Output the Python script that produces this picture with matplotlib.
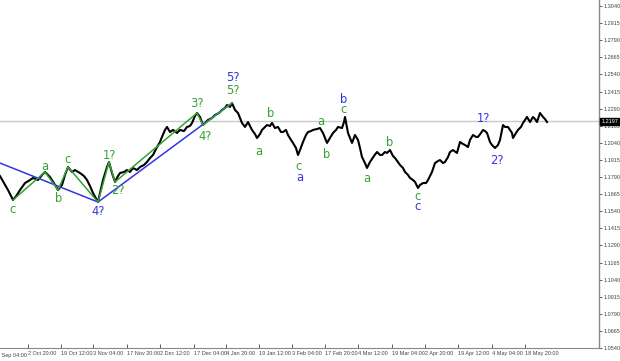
import matplotlib
matplotlib.use("Agg")
import matplotlib.pyplot as plt
import matplotlib.ticker as mticker

# ---- data -------------------------------------------------------------
bar_x = [0, 4, 8, 13, 17, 20, 25, 30, 33, 38, 42, 45, 50, 55, 58, 62, 65, 68, 72, 75,
         80, 84, 87, 90, 93, 98, 100, 103, 107, 109, 112, 115, 118, 120, 124, 127, 130,
         133, 137, 140, 144, 147, 150, 153, 157, 160, 162, 165, 167, 170, 173, 177, 180,
         184, 187, 190, 192, 195, 197, 200, 203, 206, 208, 212, 215, 219, 222, 225, 227,
         230, 232, 235, 238, 242, 245, 248, 252, 255, 257, 260, 262, 265, 267, 270, 272,
         275, 278, 281, 283, 286, 288, 291, 293, 296, 298, 300, 303, 306, 308, 311, 313,
         317, 320, 323, 325, 327, 330, 333, 336, 338, 342, 344, 345, 348, 350, 352, 355,
         358, 360, 362, 365, 367, 370, 374, 377, 380, 382, 385, 387, 390, 393, 395, 400,
         403, 405, 408, 410, 413, 415, 418, 420, 423, 426, 428, 430, 432, 435, 438, 440,
         443, 445, 448, 450, 453, 457, 460, 463, 465, 468, 470, 473, 476, 478, 481, 483,
         485, 487, 490, 492, 495, 498, 500, 503, 505, 508, 510, 512, 513, 516, 518, 521,
         523, 525, 527, 530, 533, 535, 537, 540, 543, 545, 547]
close = [1.1797, 1.1746, 1.1695, 1.1622, 1.1659, 1.1695, 1.1746, 1.1768, 1.1783, 1.1768,
         1.1805, 1.1827, 1.1790, 1.1732, 1.1695, 1.1732, 1.1805, 1.1863, 1.1827, 1.1841,
         1.1819, 1.1797, 1.1768, 1.1724, 1.1673, 1.1607, 1.1673, 1.1768, 1.1863, 1.1900,
         1.1819, 1.1754, 1.1797, 1.1819, 1.1827, 1.1841, 1.1827, 1.1856, 1.1841, 1.1863,
         1.1878, 1.1900, 1.1929, 1.1951, 1.2009, 1.2046, 1.2083, 1.2134, 1.2156, 1.2119,
         1.2134, 1.2112, 1.2134, 1.2126, 1.2156, 1.2163, 1.2185, 1.2236, 1.2258, 1.2229,
         1.2170, 1.2192, 1.2207, 1.2221, 1.2243, 1.2258, 1.2280, 1.2295, 1.2316, 1.2302,
         1.2331, 1.2280, 1.2258, 1.2185, 1.2156, 1.2192, 1.2134, 1.2104, 1.2075, 1.2104,
         1.2134, 1.2156, 1.2170, 1.2163, 1.2185, 1.2148, 1.2156, 1.2119, 1.2119, 1.2134,
         1.2097, 1.2061, 1.2039, 1.2002, 1.1951, 1.1987, 1.2046, 1.2097, 1.2119, 1.2126,
         1.2134, 1.2141, 1.2148, 1.2112, 1.2075, 1.2039, 1.2075, 1.2112, 1.2134, 1.2156,
         1.2148, 1.2192, 1.2229, 1.2112, 1.2075, 1.2039, 1.2097, 1.2061, 1.2002, 1.1936,
         1.1892, 1.1856, 1.1900, 1.1944, 1.1973, 1.1951, 1.1951, 1.1973, 1.1966, 1.1987,
         1.1944, 1.1929, 1.1878, 1.1856, 1.1827, 1.1805, 1.1783, 1.1768, 1.1754, 1.1710,
         1.1732, 1.1746, 1.1746, 1.1768, 1.1797, 1.1827, 1.1892, 1.1907, 1.1914, 1.1892,
         1.1900, 1.1936, 1.1973, 1.1987, 1.1966, 1.2046, 1.2031, 1.2024, 1.2009, 1.2061,
         1.2097, 1.2083, 1.2083, 1.2112, 1.2134, 1.2126, 1.2112, 1.2046, 1.2024, 1.2002,
         1.2024, 1.2061, 1.2170, 1.2156, 1.2156, 1.2134, 1.2112, 1.2075, 1.2112, 1.2134,
         1.2156, 1.2185, 1.2207, 1.2229, 1.2192, 1.2229, 1.2214, 1.2192, 1.2258, 1.2229,
         1.2214, 1.2192]
current_price = 1.2197

blue_x = [0, 98, 232]
blue_p = [1.1892, 1.1607, 1.2331]
green_x = [13, 45, 58, 68, 98, 109, 115, 197, 203, 232]
green_p = [1.1622, 1.1827, 1.1695, 1.1863, 1.1607, 1.1900, 1.1754, 1.2258, 1.2170, 1.2331]

# wave labels: text, x, price, colour key
labels = [
    ("c", 13, 1.1549, "g"), ("a", 45, 1.1864, "g"), ("b", 59, 1.1630, "g"),
    ("c", 68, 1.1915, "g"), ("1?", 109, 1.1944, "g"), ("2?", 118, 1.1695, "g"),
    ("4?", 98, 1.1535, "b"), ("3?", 197, 1.2331, "g"), ("4?", 205, 1.2083, "g"),
    ("5?", 233, 1.2426, "g"), ("5?", 233, 1.2514, "b"), ("a", 259, 1.1980, "g"),
    ("b", 271, 1.2251, "g"), ("c", 299, 1.1870, "g"), ("a", 300, 1.1783, "b"),
    ("a", 321, 1.2199, "g"), ("b", 327, 1.1951, "g"), ("c", 344, 1.2280, "g"),
    ("b", 344, 1.2353, "b"), ("a", 367, 1.1776, "g"), ("b", 390, 1.2039, "g"),
    ("c", 418, 1.1644, "g"), ("c", 418, 1.1578, "b"), ("1?", 483, 1.2221, "b"),
    ("2?", 497, 1.1914, "b"),
]

yticks = [1.0540, 1.0665, 1.0790, 1.0915, 1.1040, 1.1165, 1.1290, 1.1415, 1.1540, 1.1665,
          1.1790, 1.1915, 1.2040, 1.2165, 1.2290, 1.2415, 1.2540, 1.2665, 1.2790, 1.2915, 1.3040]
first_xlab = "28 Sep 04:00"
xtick_pos = [28, 61, 93, 127, 160, 194, 226, 259, 292, 325, 358, 392, 425, 458, 492, 525]
xtick_lab = ["2 Oct 20:00", "19 Oct 12:00", "3 Nov 04:00", "17 Nov 20:00",
             "2 Dec 12:00", "17 Dec 04:00", "4 Jan 20:00", "19 Jan 12:00", "3 Feb 04:00",
             "17 Feb 20:00", "4 Mar 12:00", "19 Mar 04:00", "2 Apr 20:00", "19 Apr 12:00",
             "4 May 04:00", "18 May 20:00"]

# ---- plot -------------------------------------------------------------
GREEN = "#34a234"
BLUE = "#3434e0"
cols = {"g": GREEN, "b": BLUE}
SMALL = ["Liberation Sans", "DejaVu Sans"]
FS = 4.0

fig = plt.figure(figsize=(6.2, 3.61), dpi=100)
ax = fig.add_axes([0.0, 13 / 361, 599 / 620, 1 - 13 / 361])

ax.axhline(current_price, color="#c8c8c8", lw=1.0, zorder=1)
ax.plot(blue_x, blue_p, color=BLUE, lw=1.1, zorder=3)
ax.plot(green_x, green_p, color=GREEN, lw=1.1, zorder=3)
ax.plot(bar_x, close, color="black", lw=1.5, zorder=2)

for t, x, p, c in labels:
    ax.text(x, p, t, color=cols[c], fontsize=8.3, ha="center", va="center",
            family="DejaVu Sans", zorder=4)

ax.yaxis.tick_right()
ax.set_yticks(yticks)
ax.yaxis.set_major_formatter(mticker.FormatStrFormatter("%.4f"))
ax.tick_params(axis="y", direction="out", length=2, width=0.6, labelsize=FS,
               colors="#444444", pad=1)
ax.set_xticks(xtick_pos)
ax.set_xticklabels(xtick_lab)
ax.tick_params(axis="x", direction="in", length=3, width=0.6, labelsize=FS,
               colors="#444444", pad=2.5)
for lab in ax.get_xticklabels() + ax.get_yticklabels():
    lab.set_family(SMALL)
for lab in ax.get_xticklabels():
    lab.set_horizontalalignment("left")

ax.set_xlim(0, 599)
ax.set_ylim(1.0540, 1.3084)

ax.text(-6, -0.013, first_xlab, transform=ax.get_xaxis_transform(), fontsize=FS,
        color="#444444", family=SMALL, ha="left", va="top", clip_on=False)

for s in ["top", "left"]:
    ax.spines[s].set_visible(False)
ax.spines["right"].set_color("#888888")
ax.spines["bottom"].set_color("#888888")
ax.spines["right"].set_linewidth(1.0)
ax.spines["bottom"].set_linewidth(0.8)

ax.text(1.004, current_price, "1.2197", transform=ax.get_yaxis_transform(),
        fontsize=FS, color="white", va="center", ha="left", family=SMALL,
        bbox=dict(boxstyle="square,pad=0.2", fc="black", ec="black"), zorder=5,
        clip_on=False)

fig.savefig("out.png", dpi=100)
